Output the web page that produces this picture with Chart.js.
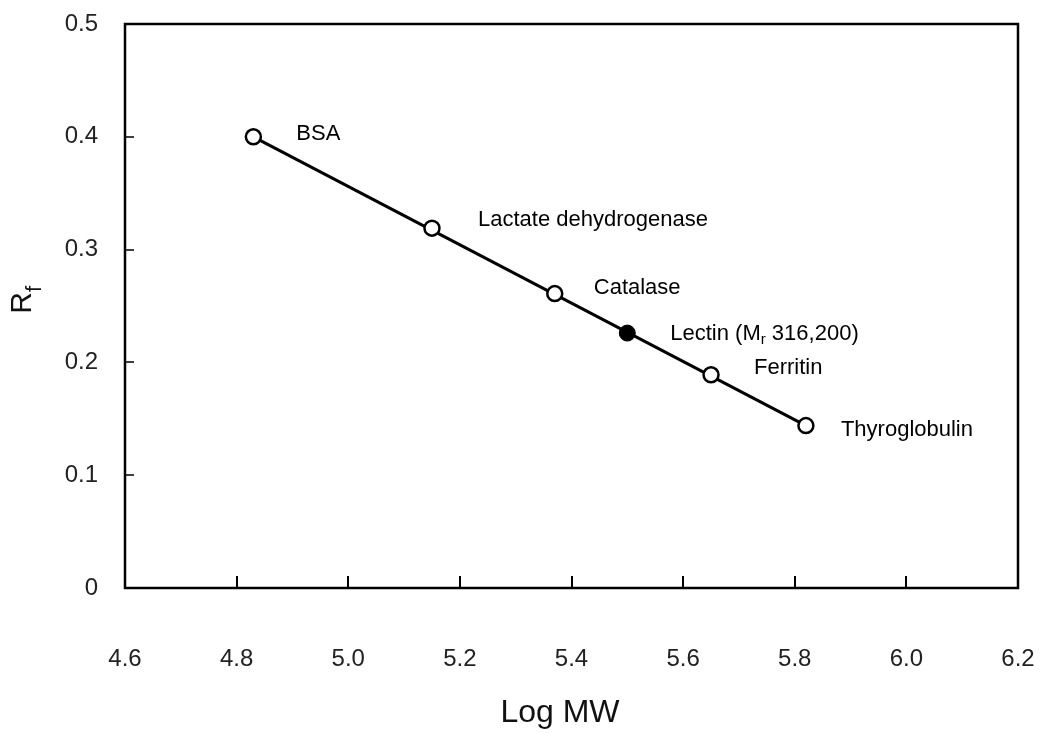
<!DOCTYPE html>
<html>
<head>
<meta charset="utf-8">
<script src="https://cdn.jsdelivr.net/npm/chart.js@4/dist/chart.umd.min.js"></script>
<style>
    html, body {
        margin: 0;
        padding: 0;
        background: #fff;
    }
    #chart {
        display: block;
    }
</style>
</head>
<body>
<canvas id="chart" width="1041" height="733"></canvas>
<script>
// calibration standards: log molecular weight vs relative mobility
const standardNames = ['BSA', 'Lactate dehydrogenase', 'Catalase', 'Ferritin', 'Thyroglobulin'];
const standardLogMw = [4.83, 5.15, 5.37, 5.65, 5.82];
const standardRf = [0.400, 0.319, 0.261, 0.189, 0.144];

// lectin sample, Mr 316,200
const lectinMr = 316200;
const lectinRf = [0.226];

// straight fit through the standards
const fitLogMw = [4.83, 5.82];
const fitRf = [0.400, 0.144];

const xTicks = [4.6, 4.8, 5.0, 5.2, 5.4, 5.6, 5.8, 6.0, 6.2];
const yTicks = [0, 0.1, 0.2, 0.3, 0.4, 0.5];

const FONT = '"Liberation Sans", Arial, Helvetica, sans-serif';

const lectinLogMw = [Math.log10(lectinMr)];

function toPoints(xs, ys) {
    return xs.map((x, i) => ({x: x, y: ys[i]}));
}

// text offsets for the protein names, from their point centres
const labelOffsets = [[43, -3], [46, -8], [39, -6], [43, -7], [35, 4]];

const decorPlugin = {
    id: 'decor',
    afterDraw(chart) {
        const ctx = chart.ctx;
        const area = chart.chartArea;
        const xs = chart.scales.x;
        const ys = chart.scales.y;

        ctx.save();
        // frame
        ctx.strokeStyle = '#000';
        ctx.lineWidth = 2.5;
        ctx.strokeRect(area.left, area.top, area.right - area.left, area.bottom - area.top);

        // inward tick marks
        ctx.lineWidth = 2;
        xTicks.slice(1, -1).forEach(v => {
            const px = Math.round(xs.getPixelForValue(v));
            ctx.beginPath();
            ctx.moveTo(px, area.bottom);
            ctx.lineTo(px, area.bottom - 12);
            ctx.stroke();
        });
        ctx.lineWidth = 1.5;
        yTicks.slice(1, -1).forEach(v => {
            const py = Math.round(ys.getPixelForValue(v));
            ctx.beginPath();
            ctx.moveTo(area.left, py);
            ctx.lineTo(area.left + 9, py);
            ctx.stroke();
        });

        // protein names
        ctx.fillStyle = '#000';
        ctx.font = '22px ' + FONT;
        ctx.textBaseline = 'middle';
        ctx.textAlign = 'left';
        const stdMeta = chart.getDatasetMeta(1);
        stdMeta.data.forEach((pt, i) => {
            const off = labelOffsets[i];
            ctx.fillText(standardNames[i], pt.x + off[0], pt.y + off[1]);
        });

        // lectin label with subscript r
        const lp = chart.getDatasetMeta(2).data[0];
        let tx = lp.x + 43;
        const ty = lp.y + 1;
        ctx.fillText('Lectin (M', tx, ty);
        tx += ctx.measureText('Lectin (M').width;
        ctx.font = '15px ' + FONT;
        ctx.fillText('r', tx, ty + 6);
        tx += ctx.measureText('r').width;
        ctx.font = '22px ' + FONT;
        ctx.fillText(' 316,200)', tx, ty);

        // x axis title
        ctx.fillStyle = '#111';
        ctx.font = '32px ' + FONT;
        ctx.textAlign = 'center';
        ctx.fillText('Log MW', 560, 713);

        // y axis title, R with subscript f
        ctx.translate(23, 303);
        ctx.rotate(-Math.PI / 2);
        ctx.font = '30px ' + FONT;
        ctx.textAlign = 'center';
        ctx.fillText('R', 0, 0);
        ctx.font = '22px ' + FONT;
        ctx.textAlign = 'left';
        ctx.fillText('f', 11, 12);
        ctx.restore();
    }
};

new Chart(document.getElementById('chart'), {
    type: 'scatter',
    data: {
        datasets: [
            {
                label: 'fit',
                data: toPoints(fitLogMw, fitRf),
                showLine: true,
                borderColor: '#000',
                borderWidth: 3,
                pointRadius: 0,
                order: 3,
            },
            {
                label: 'standards',
                data: toPoints(standardLogMw, standardRf),
                pointStyle: 'circle',
                pointRadius: 7.5,
                pointBackgroundColor: '#fff',
                pointBorderColor: '#000',
                pointBorderWidth: 2.5,
                order: 1,
            },
            {
                label: 'lectin',
                data: toPoints(lectinLogMw, lectinRf),
                pointStyle: 'circle',
                pointRadius: 8,
                pointBackgroundColor: '#000',
                pointBorderColor: '#000',
                pointBorderWidth: 1,
                order: 1,
            },
        ]
    },
    options: {
        responsive: false,
        animation: false,
        devicePixelRatio: 1,
        layout: {
            padding: {top: 24, right: 23, left: 0, bottom: 0}
        },
        plugins: {
            legend: {display: false},
            tooltip: {enabled: false},
        },
        scales: {
            x: {
                type: 'linear',
                min: 4.6,
                max: 6.2,
                afterFit: scale => {
                    scale.height = 145;
                    scale.paddingLeft = 0;
                    scale.paddingRight = 0;
                },
                afterBuildTicks: scale => { scale.ticks = xTicks.map(v => ({value: v})); },
                grid: {display: false, drawTicks: false},
                border: {display: false},
                ticks: {
                    padding: 57,
                    color: '#222',
                    font: {family: FONT, size: 24},
                    callback: v => v.toFixed(1),
                    maxRotation: 0,
                },
            },
            y: {
                type: 'linear',
                min: 0,
                max: 0.5,
                afterFit: scale => {
                    scale.width = 125;
                    scale.paddingTop = 0;
                    scale.paddingBottom = 0;
                },
                afterBuildTicks: scale => { scale.ticks = yTicks.map(v => ({value: v})); },
                grid: {display: false, drawTicks: false},
                border: {display: false},
                ticks: {
                    padding: 27,
                    color: '#222',
                    font: {family: FONT, size: 24},
                    callback: v => v === 0 ? '0' : v.toFixed(1),
                },
            },
        },
    },
    plugins: [decorPlugin],
});
</script>
</body>
</html>
